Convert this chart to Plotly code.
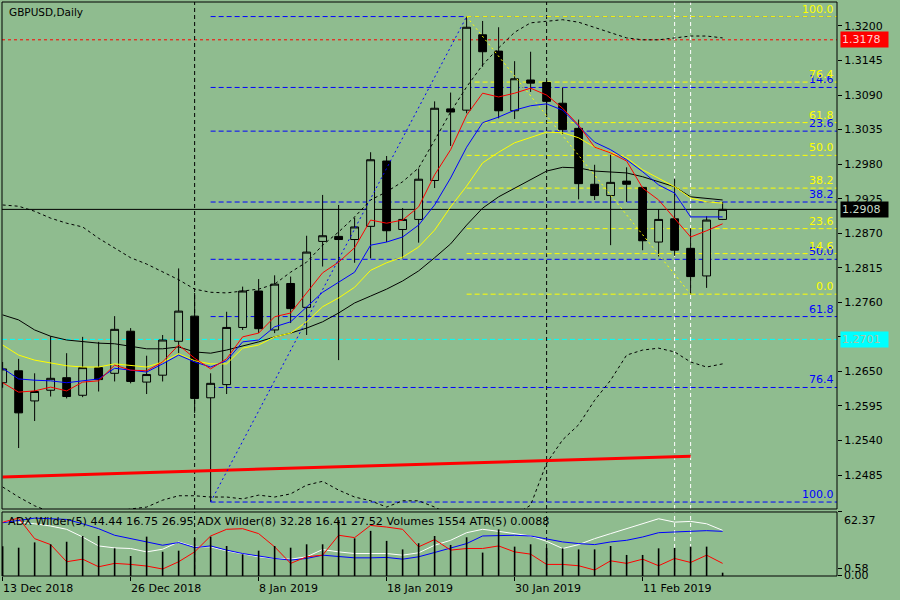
import plotly.graph_objects as go

BG = "#8fbc8f"
FONT = "DejaVu Sans"

dates = ["13 Dec 2018", "14 Dec 2018", "17 Dec 2018", "18 Dec 2018", "19 Dec 2018", "20 Dec 2018",
         "21 Dec 2018", "24 Dec 2018", "26 Dec 2018", "27 Dec 2018", "28 Dec 2018", "31 Dec 2018",
         "2 Jan 2019", "3 Jan 2019", "4 Jan 2019", "7 Jan 2019", "8 Jan 2019", "9 Jan 2019",
         "10 Jan 2019", "11 Jan 2019", "14 Jan 2019", "15 Jan 2019", "16 Jan 2019", "17 Jan 2019",
         "18 Jan 2019", "21 Jan 2019", "22 Jan 2019", "23 Jan 2019", "24 Jan 2019", "25 Jan 2019",
         "28 Jan 2019", "29 Jan 2019", "30 Jan 2019", "31 Jan 2019", "1 Feb 2019", "4 Feb 2019",
         "5 Feb 2019", "6 Feb 2019", "7 Feb 2019", "8 Feb 2019", "11 Feb 2019", "12 Feb 2019",
         "13 Feb 2019", "14 Feb 2019", "15 Feb 2019", "18 Feb 2019"]

opens = [1.2632, 1.2651, 1.2603, 1.2620, 1.2640, 1.2612, 1.2656, 1.2647, 1.2714, 1.2633,
         1.2644, 1.2698, 1.2738, 1.2608, 1.2629, 1.2720, 1.2778, 1.2716, 1.2790, 1.2752,
         1.2857, 1.2865, 1.2860, 1.2881, 1.2985, 1.2876, 1.2892, 1.2954, 1.3068, 1.3066,
         1.3186, 1.3160, 1.3065, 1.3114, 1.3110, 1.3077, 1.3037, 1.2948, 1.2930, 1.2953,
         1.2943, 1.2856, 1.2893, 1.2846, 1.2802, 1.2892]
highs = [1.2665, 1.2670, 1.2647, 1.2706, 1.2679, 1.2705, 1.2697, 1.2738, 1.2719, 1.2675,
         1.2708, 1.2814, 1.2775, 1.2647, 1.2745, 1.2785, 1.2797, 1.2803, 1.2801, 1.2866,
         1.2931, 1.2915, 1.2895, 1.2999, 1.2993, 1.2910, 1.2973, 1.3080, 1.3094, 1.3215,
         1.3208, 1.3198, 1.3144, 1.3159, 1.3114, 1.3102, 1.3051, 1.2979, 1.2995, 1.2975,
         1.2944, 1.2908, 1.2957, 1.2878, 1.2897, 1.2920]
lows = [1.2624, 1.2528, 1.2571, 1.2610, 1.2607, 1.2609, 1.2618, 1.2634, 1.2631, 1.2614,
        1.2634, 1.2679, 1.2584, 1.2442, 1.2614, 1.2716, 1.2711, 1.2711, 1.2727, 1.2708,
        1.2817, 1.2668, 1.2823, 1.2830, 1.2856, 1.2830, 1.2855, 1.2942, 1.3009, 1.3061,
        1.3135, 1.3053, 1.3052, 1.3095, 1.3055, 1.3028, 1.2924, 1.2923, 1.2851, 1.2920,
        1.2843, 1.2833, 1.2834, 1.2773, 1.2783, 1.2891]
closes = [1.2654, 1.2584, 1.2618, 1.2639, 1.2610, 1.2656, 1.2637, 1.2717, 1.2634, 1.2645,
          1.2700, 1.2746, 1.2607, 1.2631, 1.2720, 1.2778, 1.2718, 1.2789, 1.2750, 1.2840,
          1.2866, 1.2860, 1.2880, 1.2987, 1.2874, 1.2892, 1.2956, 1.3069, 1.3063, 1.3198,
          1.3159, 1.3065, 1.3116, 1.3109, 1.3080, 1.3035, 1.2949, 1.2930, 1.2951, 1.2948,
          1.2858, 1.2892, 1.2843, 1.2801, 1.2891, 1.2908]

ma_red = [1.2632, 1.2617, 1.2619, 1.2625, 1.2619, 1.2633, 1.2635, 1.2660, 1.2652, 1.2651,
          1.2665, 1.2692, 1.2671, 1.2654, 1.2670, 1.2705, 1.2711, 1.2737, 1.2743, 1.2775,
          1.2807, 1.2824, 1.2847, 1.2891, 1.2886, 1.2891, 1.2912, 1.2963, 1.3003, 1.3058,
          1.3093, 1.3087, 1.3093, 1.3101, 1.3090, 1.3069, 1.3042, 1.3007, 1.2998, 1.2985,
          1.2942, 1.2923, 1.2894, 1.2864, 1.2874, 1.2885]
ma_blue = [1.2655, 1.2638, 1.2636, 1.2635, 1.2632, 1.2635, 1.2638, 1.2655, 1.2652, 1.2649,
           1.2662, 1.2676, 1.2665, 1.2657, 1.2667, 1.2697, 1.2700, 1.2721, 1.2729, 1.2753,
           1.2776, 1.2792, 1.2808, 1.2851, 1.2856, 1.2864, 1.2883, 1.2915, 1.2958, 1.3007,
           1.3046, 1.3055, 1.3066, 1.3073, 1.3076, 1.3066, 1.3041, 1.3015, 1.3003, 1.2987,
           1.2968, 1.2947, 1.2934, 1.2896, 1.2896, 1.2896]
ma_yellow = [1.2692, 1.2676, 1.2668, 1.2663, 1.2659, 1.2657, 1.2657, 1.2662, 1.2659, 1.2657,
             1.2665, 1.2678, 1.2667, 1.2662, 1.2662, 1.2687, 1.2692, 1.2705, 1.2711, 1.2729,
             1.2753, 1.2767, 1.2784, 1.2811, 1.2823, 1.2832, 1.2848, 1.2875, 1.2912, 1.2945,
             1.2982, 1.2999, 1.3014, 1.3023, 1.3031, 1.3030, 1.3022, 1.3007, 1.2998, 1.2990,
             1.2971, 1.2958, 1.2944, 1.2926, 1.2920, 1.2918]
ma_black = [1.2740, 1.2732, 1.2716, 1.2706, 1.2700, 1.2697, 1.2695, 1.2694, 1.2690, 1.2686,
            1.2686, 1.2689, 1.2681, 1.2679, 1.2684, 1.2690, 1.2697, 1.2705, 1.2711, 1.2719,
            1.2729, 1.2743, 1.2759, 1.2770, 1.2781, 1.2794, 1.2810, 1.2831, 1.2853, 1.2883,
            1.2910, 1.2928, 1.2942, 1.2955, 1.2969, 1.2975, 1.2974, 1.2969, 1.2968, 1.2966,
            1.2960, 1.2952, 1.2944, 1.2928, 1.2925, 1.2923]
bb_upper = [1.2915, 1.2913, 1.2905, 1.2894, 1.2886, 1.2880, 1.2862, 1.2847, 1.2831, 1.2821,
            1.2808, 1.2796, 1.2781, 1.2776, 1.2775, 1.2778, 1.2781, 1.2789, 1.2808, 1.2824,
            1.2851, 1.2872, 1.2896, 1.2923, 1.2936, 1.2952, 1.2974, 1.3018, 1.3063, 1.3103,
            1.3138, 1.3165, 1.3190, 1.3205, 1.3208, 1.3210, 1.3206, 1.3198, 1.3190, 1.3181,
            1.3178, 1.3178, 1.3181, 1.3184, 1.3184, 1.3181]
bb_lower = [1.2466, 1.2450, 1.2436, 1.2426, 1.2420, 1.2418, 1.2420, 1.2425, 1.2431, 1.2434,
            1.2445, 1.2452, 1.2452, 1.2450, 1.2450, 1.2447, 1.2453, 1.2450, 1.2455, 1.2469,
            1.2475, 1.2461, 1.2450, 1.2444, 1.2434, 1.2444, 1.2444, 1.2434, 1.2421, 1.2413,
            1.2410, 1.2413, 1.2421, 1.2437, 1.2504, 1.2541, 1.2565, 1.2604, 1.2636, 1.2676,
            1.2684, 1.2687, 1.2681, 1.2665, 1.2657, 1.2662]

adx_white = [53.2, 52.5, 50.9, 48.7, 45.5, 38.0, 29.3, 27.4, 26.8, 23.5,
             26.1, 33.2, 28.4, 28.4, 24.5, 21.9, 18.7, 17.1, 16.4, 18.7,
             25.8, 23.5, 21.9, 21.9, 21.9, 20.3, 22.6, 30.0, 34.8, 42.2,
             45.5, 43.5, 41.3, 39.0, 33.8, 26.8, 30.6, 36.4, 41.3, 46.1,
             50.9, 55.8, 52.5, 53.2, 50.9, 44.5]
adx_blue = [51.9, 54.2, 56.4, 55.8, 55.1, 50.9, 46.1, 39.7, 36.4, 33.2,
            30.0, 32.6, 27.7, 29.3, 25.2, 21.9, 19.3, 17.1, 15.5, 17.1,
            20.3, 19.3, 17.7, 17.7, 18.1, 16.4, 18.7, 22.9, 27.4, 31.6,
            39.0, 39.7, 39.7, 39.0, 36.4, 33.2, 31.6, 30.6, 33.2, 34.8,
            38.0, 42.2, 42.9, 43.8, 44.2, 43.5]
adx_red = [52.5, 56.4, 36.4, 30.6, 13.9, 16.4, 9.0, 12.3, 11.3, 9.7,
           6.8, 13.9, 23.5, 39.0, 45.5, 46.1, 41.3, 28.4, 12.3, 18.7,
           20.3, 39.7, 37.4, 49.3, 47.7, 45.5, 28.4, 35.5, 25.2, 26.8,
           26.8, 29.3, 23.5, 21.3, 11.3, 11.3, 10.0, 5.8, 14.8, 12.3,
           16.4, 10.0, 17.1, 13.2, 20.3, 12.3]
volumes = [14000, 13300, 15800, 14900, 16100, 18800, 18800, 13000, 9400, 18500,
           11400, 11900, 17900, 18500, 14100, 10200, 11900, 14100, 13300, 14900,
           14900, 26300, 17700, 21200, 16500, 12500, 15400, 18800, 14600, 18200,
           11000, 21900, 13800, 14900, 13200, 13000, 12500, 12500, 14100, 9900,
           9900, 13000, 13200, 13800, 13800, 1554]

price_ticks = [1.3200, 1.3145, 1.3090, 1.3035, 1.2980, 1.2925, 1.2870, 1.2815,
               1.2760, 1.2705, 1.2650, 1.2595, 1.2540, 1.2485]
date_tick_bars = [0, 8, 16, 24, 32, 40]
fib_ratios = [0.0, 14.6, 23.6, 38.2, 50.0, 61.8, 76.4, 100.0]

alert_red = 1.3178
alert_cyan = 1.2701
trend_start_bar, trend_start_price = 0, 1.2482
trend_end_bar, trend_end_price = 43, 1.2515
month_sep_bars = [12, 34]
marker_bars = [42, 43]
fib_high_bar = 29
fib_low_bar_blue = 13
fib_low_bar_yellow = 43

header = "GBPUSD,Daily"
ind_text = ("ADX Wilder(5) 44.44 16.75 26.95 ADX Wilder(8) 32.28 16.41 27.52 "
            "Volumes 1554 ATR(5) 0.0088")

x = list(range(len(dates)))
bid = closes[-1]

fig = go.Figure()

# ---------- main panel ----------
fig.add_trace(go.Candlestick(
    x=x, open=opens, high=highs, low=lows, close=closes,
    increasing=dict(line=dict(color="black", width=1), fillcolor=BG),
    decreasing=dict(line=dict(color="black", width=1), fillcolor="black"),
    whiskerwidth=0, hoverinfo="skip", xaxis="x", yaxis="y"))

def line(y, color, width=1, dash="solid", xs=None, xa="x", ya="y"):
    fig.add_trace(go.Scatter(x=xs if xs is not None else x, y=y, mode="lines",
                             line=dict(color=color, width=width, dash=dash),
                             hoverinfo="skip", xaxis=xa, yaxis=ya))

line(bb_upper, "black", 1, "3px,3px")
line(bb_lower, "black", 1, "3px,3px")
line(ma_black, "black", 1)
line(ma_yellow, "#ffff00", 1)
line(ma_blue, "#0000ff", 1)
line(ma_red, "#ff0000", 1)

# trend line (thick red)
line([trend_start_price, trend_end_price], "#ff0000", 3, "solid",
     xs=[trend_start_bar, trend_end_bar])

hi = highs[fib_high_bar]
lo_b = lows[fib_low_bar_blue]
lo_y = lows[fib_low_bar_yellow]
# fib diagonals
line([lo_b, hi], "#0000ff", 1, "2px,3px", xs=[fib_low_bar_blue, fib_high_bar])
line([hi, lo_y], "#ffff00", 1, "2px,3px", xs=[fib_high_bar, fib_low_bar_yellow])

shapes = []
annots = []
XMAX = 52.15

# blue fib levels
for r in fib_ratios:
    lvl = hi - r / 100.0 * (hi - lo_b)
    shapes.append(dict(type="line", xref="x", yref="y", x0=fib_low_bar_blue, x1=XMAX,
                       y0=lvl, y1=lvl, line=dict(color="#0000ff", width=1, dash="5px,3px"),
                       layer="below"))
    if r > 0:
        annots.append(dict(xref="paper", yref="y", x=0.9976, y=lvl, xanchor="right",
                           yanchor="bottom", text=f"{r:.1f}", showarrow=False, borderpad=0,
                           font=dict(color="#0000ff", size=11, family=FONT)))
# yellow fib levels
for r in fib_ratios:
    lvl = lo_y + r / 100.0 * (hi - lo_y)
    shapes.append(dict(type="line", xref="x", yref="y", x0=fib_high_bar, x1=XMAX,
                       y0=lvl, y1=lvl, line=dict(color="#ffff00", width=1, dash="5px,3px"),
                       layer="below"))
    annots.append(dict(xref="paper", yref="y", x=0.9976, y=lvl, xanchor="right",
                       yanchor="bottom", text=f"{r:.1f}", showarrow=False, borderpad=0,
                       font=dict(color="#ffff00", size=11, family=FONT)))

# horizontal lines
for val, col, dash in [(alert_red, "#ff0000", "3px,3px"), (alert_cyan, "#00ffff", "5px,3px"),
                       (bid, "black", "solid")]:
    shapes.append(dict(type="line", xref="x domain", yref="y", x0=0, x1=1, y0=val, y1=val,
                       line=dict(color=col, width=1, dash=dash), layer="below"))

# vertical separators
for b in month_sep_bars:
    for xr, yr in [("x", "y domain"), ("x2", "y2 domain")]:
        shapes.append(dict(type="line", xref=xr, yref=yr, x0=b, x1=b, y0=0, y1=1,
                           line=dict(color="black", width=1, dash="4px,3px"), layer="below"))
for b in marker_bars:
    for xr, yr in [("x", "y domain"), ("x2", "y2 domain")]:
        shapes.append(dict(type="line", xref=xr, yref=yr, x0=b, x1=b, y0=0, y1=1,
                           line=dict(color="white", width=1, dash="4px,3px"), layer="below"))

# frames
for xr, yr in [("x domain", "y domain"), ("x domain", "y2 domain")]:
    shapes.append(dict(type="rect", xref=xr, yref=yr, x0=0, x1=1, y0=0, y1=1,
                       line=dict(color="black", width=1), fillcolor="rgba(0,0,0,0)"))

# ---------- indicator panel ----------
fig.add_trace(go.Bar(x=x, y=volumes, width=0.1, marker=dict(color="black", line=dict(width=0)),
                     hoverinfo="skip", xaxis="x2", yaxis="y3"))
line(adx_white, "white", 1, xa="x2", ya="y2")
line(adx_blue, "#0000ff", 1, xa="x2", ya="y2")
line(adx_red, "#ff0000", 1, xa="x2", ya="y2")

# texts
annots.append(dict(xref="paper", yref="paper", x=0.0065, y=0.9826, xanchor="left",
                   yanchor="middle", text=header, showarrow=False,
                   font=dict(color="black", size=10.5, family=FONT)))
annots.append(dict(xref="paper", yref="paper", x=0.005, y=0.0941, xanchor="left",
                   yanchor="middle", text=ind_text, showarrow=False,
                   font=dict(color="black", size=11.2, family=FONT)))
for b in date_tick_bars:
    annots.append(dict(xref="x2", yref="paper", x=b, y=-0.021, xanchor="left",
                       yanchor="middle", text=dates[b], showarrow=False, xshift=-2,
                       font=dict(color="black", size=11, family=FONT)))

# price labels on the right
for val, bg, fc in [(alert_red, "#ff0000", "#ffd0d0"), (bid, "black", "#c8dcc8"),
                    (alert_cyan, "#00ffff", "#a8c4a8")]:
    annots.append(dict(xref="paper", yref="y", x=1, y=val, xanchor="left", yanchor="middle",
                       xshift=3, text=f"{val:.4f}", showarrow=False, bgcolor=bg,
                       borderpad=1, width=45, align="left",
                       font=dict(color=fc, size=11, family=FONT)))

# indicator scale labels
for val, txt, anc in [(62.37, "62.37", "top"), (7.7, "0.58", "middle"), (0.0, "0.00", "middle")]:
    annots.append(dict(xref="paper", yref="y2", x=1, y=val, xanchor="left", yanchor=anc,
                       xshift=5, text=txt, showarrow=False,
                       font=dict(color="black", size=11, family=FONT)))

fig.update_layout(
    width=900, height=600, margin=dict(l=2, r=63, t=2, b=24),
    paper_bgcolor=BG, plot_bgcolor=BG, showlegend=False,
    font=dict(family=FONT, size=11, color="black"),
    xaxis=dict(domain=[0, 1], range=[-0.04, XMAX], anchor="y", showticklabels=False,
               ticks="", showgrid=False, zeroline=False, rangeslider=dict(visible=False),
               automargin=False),
    yaxis=dict(domain=[0.1167, 1], range=[1.24309, 1.32382], side="right", anchor="x",
               tickvals=price_ticks, ticktext=[f"{v:.4f}" for v in price_ticks],
               ticks="outside", ticklen=4, tickcolor="black", showgrid=False, zeroline=False,
               automargin=False, tickfont=dict(size=11, family=FONT, color="black")),
    xaxis2=dict(domain=[0, 1], anchor="y2", matches="x", tickvals=date_tick_bars,
                ticktext=[""] * len(date_tick_bars), ticks="outside", ticklen=4,
                tickcolor="black", showgrid=False, zeroline=False, automargin=False),
    yaxis2=dict(domain=[0, 0.1115], range=[0, 62.37], anchor="x2", side="right",
                tickvals=[0, 7.7, 62.37], ticktext=["", "", ""], ticks="outside", ticklen=4,
                tickcolor="black", showgrid=False, zeroline=False, automargin=False),
    yaxis3=dict(overlaying="y2", range=[0, 30080], visible=False, anchor="x2"),
    shapes=shapes, annotations=annots,
)

fig.write_html("out.html", config={"displayModeBar": False, "staticPlot": True},
               post_script="document.body.style.margin='0';document.body.style.padding='0';"
                           "document.body.style.overflow='hidden';")
